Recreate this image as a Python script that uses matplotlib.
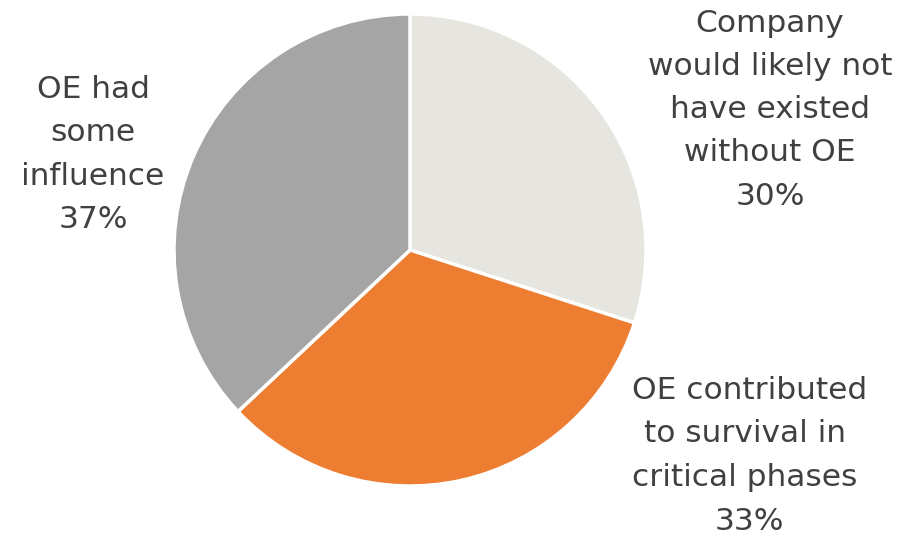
import matplotlib
matplotlib.use("Agg")
from matplotlib import pyplot as plt

labels = ["Company\nwould likely not\nhave existed\nwithout OE",
          "OE contributed\nto survival in \ncritical phases \n",
          "OE had\nsome\ninfluence"]
shares = [30, 33, 37]
colors = ["#E7E5DF", "#ED7D31", "#A5A5A5"]

# where each label block sits (data units, pie radius = 1)
label_pos = [(1.525, 0.595), (1.44, -0.872), (-1.343, 0.405)]
label_spacing = [1.62, 1.64, 1.62]

plt.rcParams['font.family'] = ['DejaVu Sans']

fig = plt.figure(figsize=(9.02, 5.38), dpi=100)
W, H = 902, 538
cx, cy, r = 410, 250, 236
ax = fig.add_axes([(cx - r) / W, (H - cy - r) / H, 2 * r / W, 2 * r / H])

ax.pie(shares, colors=colors, startangle=90, counterclock=False,
       wedgeprops=dict(edgecolor="white", linewidth=2.5))
ax.set_xlim(-1, 1)
ax.set_ylim(-1, 1)
ax.set_aspect("equal")
ax.axis("off")

for lab, val, (x, y), ls in zip(labels, shares, label_pos, label_spacing):
    text = lab.rstrip("\n") + "\n%d%%" % val
    ax.text(x, y, text, ha="center", va="center", multialignment="center",
            fontsize=22.5, color="#404040", linespacing=ls, clip_on=False)

fig.savefig("out.png", dpi=100)
